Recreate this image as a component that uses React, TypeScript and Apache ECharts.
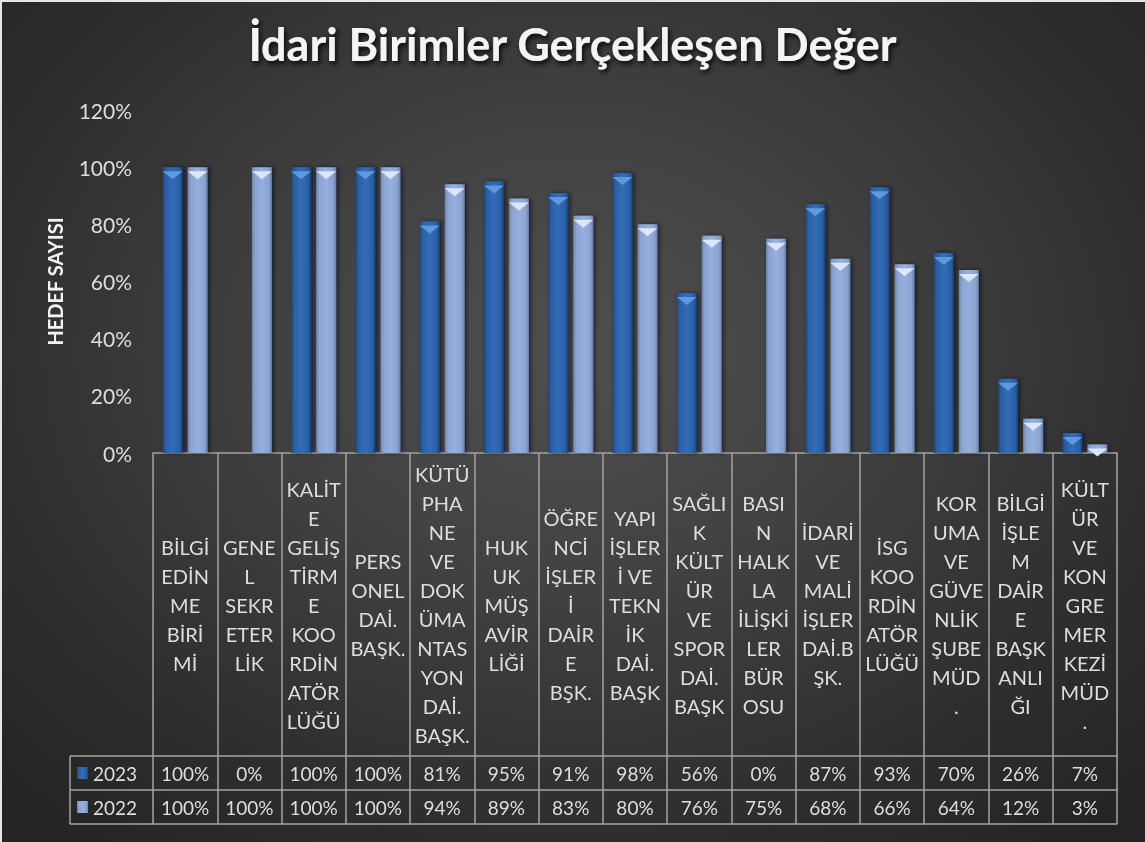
import React, { useEffect, useRef } from "react";
import * as echarts from "echarts";

const categories: string[] = [
  "BİLGİ\nEDİN\nME\nBİRİ\nMİ",
  "GENE\nL\nSEKR\nETER\nLİK",
  "KALİT\nE\nGELİŞ\nTİRM\nE\nKOO\nRDİN\nATÖR\nLÜĞÜ",
  "PERS\nONEL\nDAİ.\nBAŞK.",
  "KÜTÜ\nPHA\nNE\nVE\nDOK\nÜMA\nNTAS\nYON\nDAİ.\nBAŞK.",
  "HUK\nUK\nMÜŞ\nAVİR\nLİĞİ",
  "ÖĞRE\nNCİ\nİŞLER\nİ\nDAİR\nE\nBŞK.",
  "YAPI\nİŞLER\nİ VE\nTEKN\nİK\nDAİ.\nBAŞK",
  "SAĞLI\nK\nKÜLT\nÜR\nVE\nSPOR\nDAİ.\nBAŞK",
  "BASI\nN\nHALK\nLA\nİLİŞKİ\nLER\nBÜR\nOSU",
  "İDARİ\nVE\nMALİ\nİŞLER\nDAİ.B\nŞK.",
  "İSG\nKOO\nRDİN\nATÖR\nLÜĞÜ",
  "KOR\nUMA\nVE\nGÜVE\nNLİK\nŞUBE\nMÜD\n.",
  "BİLGİ\nİŞLE\nM\nDAİR\nE\nBAŞK\nANLI\nĞI",
  "KÜLT\nÜR\nVE\nKON\nGRE\nMER\nKEZİ\nMÜD\n.",
];

const seriesNames: string[] = ["2023", "2022"];
const values2023: number[] = [100, 0, 100, 100, 81, 95, 91, 98, 56, 0, 87, 93, 70, 26, 7];
const values2022: number[] = [100, 100, 100, 100, 94, 89, 83, 80, 76, 75, 68, 66, 64, 12, 3];

const yTicks = { min: 0, max: 120, interval: 20 };

const TITLE = "İdari Birimler Gerçekleşen Değer";
const Y_NAME = "HEDEF SAYISI";

const FONT = "Lato";
const LINE = "#a3a3a3";
const TXT = "#dedede";

const grad = (stops: [number, string][]) =>
  new echarts.graphic.LinearGradient(
    0, 0, 1, 0,
    stops.map(([offset, color]) => ({ offset, color }))
  );

const color2023 = grad([
  [0, "#1d4679"],
  [0.15, "#2b5fa5"],
  [0.5, "#336cb8"],
  [0.85, "#2b5fa5"],
  [1, "#1a3f6e"],
]);
const color2022 = grad([
  [0, "#6981b0"],
  [0.15, "#8aa3d1"],
  [0.5, "#96afdc"],
  [0.85, "#8aa3d1"],
  [1, "#657ca8"],
]);

export default function App() {
  const ref = useRef<HTMLDivElement>(null);

  useEffect(() => {
    if (!ref.current) return;
    const chart = echarts.init(ref.current, undefined, { renderer: "svg" });

    const gridLeft = 153;
    const gridRight = 1145 - 1117;
    const gridTop = 110;
    const gridBottom = 842 - 453;
    const labelArea = 303; // category label band
    const row = 34;

    const lineStyle = { color: LINE, width: 1.5 };

    const baseAxis = {
      type: "category" as const,
      data: categories,
      position: "bottom" as const,
      axisTick: { show: false },
      splitLine: { show: false },
    };

    chart.setOption({
      animation: false,
      backgroundColor: "transparent",
      textStyle: { fontFamily: FONT },
      title: {
        text: TITLE,
        left: "center",
        top: 16,
        textStyle: {
          fontFamily: FONT,
          fontWeight: "bold",
          fontSize: 45,
          color: "#f4f4f4",
          textShadowColor: "rgba(0,0,0,0.85)",
          textShadowBlur: 5,
          textShadowOffsetX: 2,
          textShadowOffsetY: 3,
        },
      },
      legend: {
        data: seriesNames,
        orient: "vertical",
        left: 77,
        top: 763,
        padding: 0,
        itemWidth: 11,
        itemHeight: 12,
        itemGap: 14,
        icon: "rect",
        textStyle: { color: TXT, fontSize: 19, lineHeight: 20, fontFamily: FONT },
      },
      grid: { left: gridLeft, right: gridRight, top: gridTop, bottom: gridBottom, containLabel: false },
      xAxis: [
        {
          ...baseAxis,
          axisLine: { show: true, lineStyle },
          axisTick: { show: true, length: labelArea + 2 * row, lineStyle },
          axisLabel: {
            interval: 0,
            margin: labelArea / 2,
            verticalAlign: "middle",
            align: "center",
            lineHeight: 29,
            fontSize: 20,
            color: TXT,
            fontFamily: FONT,
          },
        },
        {
          ...baseAxis,
          offset: labelArea,
          axisLine: { show: true, lineStyle },
          axisLabel: {
            interval: 0,
            margin: row / 2,
            verticalAlign: "middle",
            fontSize: 19,
            color: TXT,
            fontFamily: FONT,
            formatter: (_v: string, i: number) => `${values2023[i]}%`,
          },
        },
        {
          ...baseAxis,
          offset: labelArea + row,
          axisLine: { show: true, lineStyle },
          axisLabel: {
            interval: 0,
            margin: row / 2,
            verticalAlign: "middle",
            fontSize: 19,
            color: TXT,
            fontFamily: FONT,
            formatter: (_v: string, i: number) => `${values2022[i]}%`,
          },
        },
        {
          ...baseAxis,
          offset: labelArea + 2 * row,
          axisLine: { show: true, lineStyle },
          axisLabel: { show: false },
        },
      ],
      yAxis: {
        type: "value",
        min: yTicks.min,
        max: yTicks.max,
        interval: yTicks.interval,
        name: Y_NAME,
        nameLocation: "middle",
        nameRotate: 90,
        nameGap: 88,
        nameTextStyle: { fontFamily: FONT, fontWeight: "bold", fontSize: 20, color: "#f2f2f2" },
        axisLine: { show: false },
        axisTick: { show: false },
        splitLine: { show: false },
        axisLabel: {
          margin: 21,
          fontSize: 21,
          color: TXT,
          fontFamily: FONT,
          formatter: (v: number) => `${v}%`,
        },
      },
      graphic: [
        { type: "line", shape: { x1: 70, y1: 453 + labelArea, x2: gridLeft, y2: 453 + labelArea }, style: { stroke: LINE, lineWidth: 1.5 } },
        { type: "line", shape: { x1: 70, y1: 453 + labelArea + row, x2: gridLeft, y2: 453 + labelArea + row }, style: { stroke: LINE, lineWidth: 1.5 } },
        { type: "line", shape: { x1: 70, y1: 453 + labelArea + 2 * row, x2: gridLeft, y2: 453 + labelArea + 2 * row }, style: { stroke: LINE, lineWidth: 1.5 } },
        { type: "line", shape: { x1: 70, y1: 453 + labelArea, x2: 70, y2: 453 + labelArea + 2 * row }, style: { stroke: LINE, lineWidth: 1.5 } },
      ],
      series: [
        {
          type: "bar",
          name: seriesNames[0],
          data: values2023,
          barWidth: 20,
          barGap: "25%",
          itemStyle: {
            color: color2023,
            shadowColor: "rgba(0,0,0,0.55)",
            shadowBlur: 4,
            shadowOffsetX: 2,
          },
          z: 2,
        },
        {
          type: "bar",
          name: seriesNames[1],
          data: values2022,
          barWidth: 20,
          barGap: "25%",
          itemStyle: {
            color: color2022,
            shadowColor: "rgba(0,0,0,0.55)",
            shadowBlur: 4,
            shadowOffsetX: 2,
          },
          z: 2,
        },
        {
          type: "pictorialBar",
          name: "top2023",
          data: values2023.map((v) => (v === 0 ? "-" : v)),
          symbol: "path://M0,0L20,0L10,8Z",
          symbolSize: [20, 8],
          symbolPosition: "end",
          symbolOffset: [0, "50%"],
          barWidth: 20,
          barGap: "25%",
          itemStyle: { color: "#5c9ae0" },
          z: 3,
        },
        {
          type: "pictorialBar",
          name: "top2022",
          data: values2022.map((v) => (v === 0 ? "-" : v)),
          symbol: "path://M0,0L20,0L10,8Z",
          symbolSize: [20, 8],
          symbolPosition: "end",
          symbolOffset: [0, "50%"],
          barWidth: 20,
          barGap: "25%",
          itemStyle: { color: "#dbe7f8" },
          z: 3,
        },
      ],
    });

    return () => chart.dispose();
  }, []);

  return (
    <div
      style={{
        position: "fixed",
        left: 0,
        top: 0,
        width: 1145,
        height: 842,
        background:
          "radial-gradient(ellipse 70% 75% at 50% 42%, #4f4f4f 0%, #424242 35%, #2e2e2e 75%, #242424 100%)",
        boxShadow: "inset 2px 2px 0 #e6e6e6",
      }}
    >
      <div ref={ref} style={{ width: 1145, height: 842 }} />
    </div>
  );
}
